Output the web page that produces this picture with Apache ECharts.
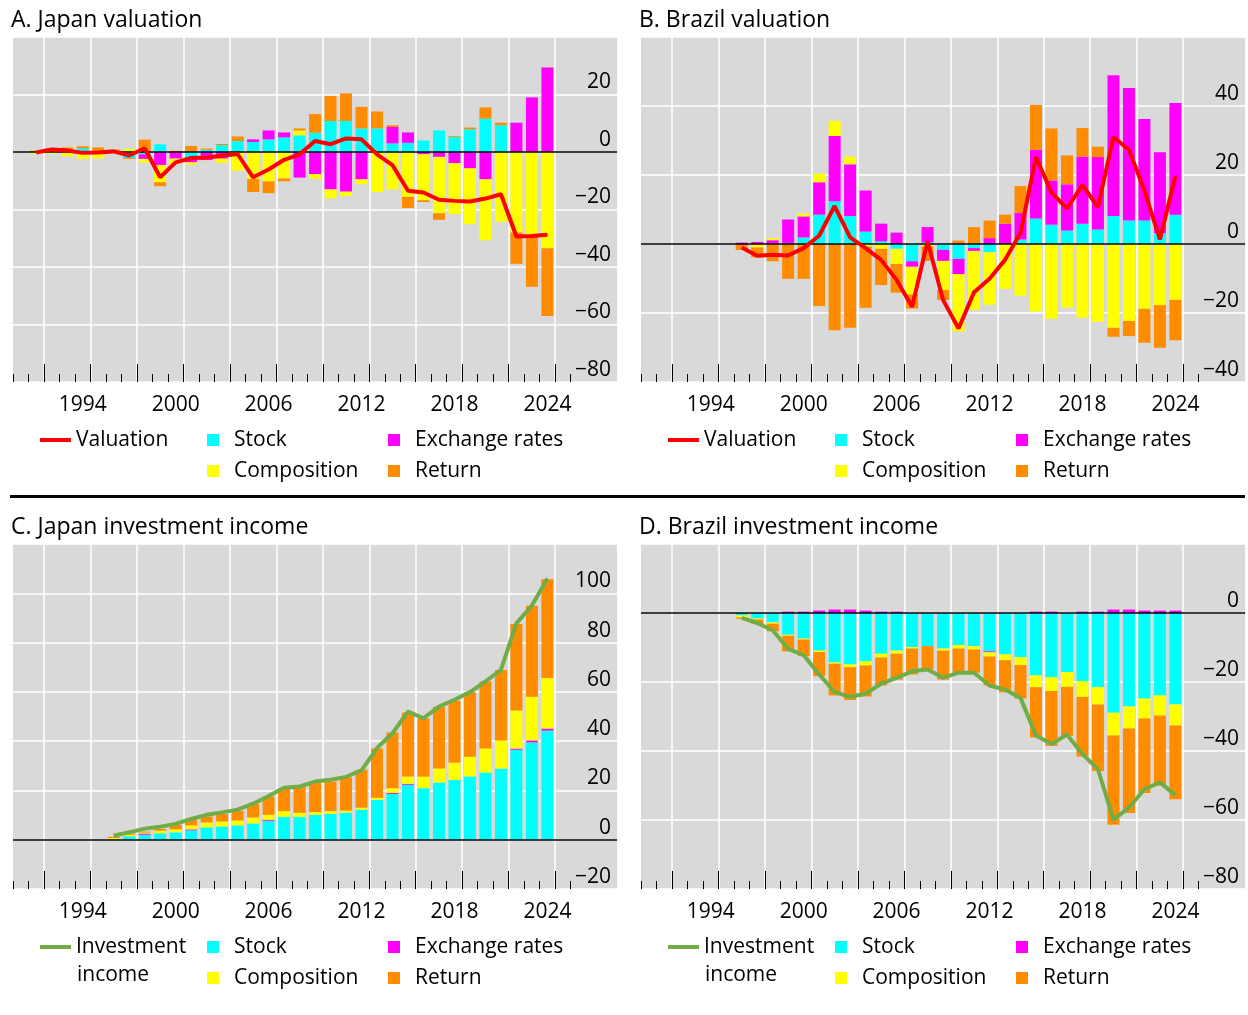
<!DOCTYPE html>
<html>
<head>
<meta charset="utf-8">
<script src="https://cdn.jsdelivr.net/npm/echarts@6/dist/echarts.min.js"></script>
<style>html,body{margin:0;padding:0;background:#fff}#chart{width:1248px;height:1015px}</style>
</head>
<body>
<div id="chart"></div>
<script>
// ---------- data ----------
const categories = ['1990','1991','1992','1993','1994','1995','1996','1997','1998','1999','2000','2001','2002','2003','2004','2005','2006','2007','2008','2009','2010','2011','2012','2013','2014','2015','2016','2017','2018','2019','2020','2021','2022','2023','2024','2025','2026','2027','2028'];
const tickLabels = ['1994','2000','2006','2012','2018','2024'];

// A. Japan valuation
const japanValYears = [1991,1992,1993,1994,1995,1996,1997,1998,1999,2000,2001,2002,2003,2004,2005,2006,2007,2008,2009,2010,2011,2012,2013,2014,2015,2016,2017,2018,2019,2020,2021,2022,2023,2024];
const japanValStock  = [0,0,0.9,1.3,0,0,-2.1,-0.8,2.7,0,-2.0,0.8,2.4,3.8,3.5,4.4,5.1,5.8,6.7,10.8,10.8,8.2,8.2,3.0,3.2,4.0,7.5,5.2,7.9,11.6,9.3,-0.2,0,0];
const japanValExch   = [0,0,0,0,0,0,0,-1.6,-4.5,-2.3,-1.6,-2.8,-2.3,0,0.9,3.1,1.7,-8.9,-7.7,-13.0,-13.8,-9.5,0,5.7,3.6,-0.8,-1.7,-3.9,-5.7,-9.5,0,10.2,19.0,29.4];
const japanValComp   = [-0.7,-0.6,-1.5,-2.4,-2.2,-0.5,1.1,-1.3,-6.0,-1.8,-0.8,0,-1.5,-6.5,-9.4,-10.2,-9.2,1.7,-1.6,-3.1,-1.5,-1.7,-13.9,-13.0,-15.6,-16.0,-19.6,-17.7,-19.4,-21.2,-24.3,-27.8,-29.4,-33.5];
const japanValReturn = [0.4,1.3,0.7,0.7,1.6,0.9,-0.3,4.3,-1.4,0.4,2.1,0.4,0.4,1.6,-4.5,-4.1,-1.0,0.7,6.5,8.7,9.6,7.5,5.9,0.6,-3.9,-0.6,-2.3,0.3,0.6,3.9,0.9,-10.9,-17.5,-23.5];
const japanValTotal  = [-0.2,0.9,0.5,-0.3,-0.2,0.2,-1.2,1.3,-8.8,-3.6,-2.1,-1.9,-1.3,-0.7,-8.8,-6.1,-2.7,-0.8,3.8,2.7,4.7,4.4,-0.8,-4.6,-13.5,-14.1,-16.6,-17.0,-17.2,-16.2,-14.7,-29.4,-29.2,-28.8];

// B. Brazil valuation
const brazilValYears = [1996,1997,1998,1999,2000,2001,2002,2003,2004,2005,2006,2007,2008,2009,2010,2011,2012,2013,2014,2015,2016,2017,2018,2019,2020,2021,2022,2023,2024];
const brazilValStock  = [0,0,0,0.3,1.9,8.5,12.4,8.1,3.6,0.8,-1.4,-5.0,0.5,-1.7,-4.3,-1.2,-2.4,0,1.3,7.4,5.6,3.9,5.9,4.2,8.1,6.8,6.8,3.2,8.5];
const brazilValExch   = [0.4,0.6,1.1,6.8,6.1,9.4,18.9,15.0,11.9,5.1,3.3,-1.6,4.4,-3.2,-4.4,-0.8,1.7,5.9,7.7,19.9,12.8,13.4,19.4,21.0,40.8,38.4,29.4,23.4,32.4];
const brazilValComp   = [0,-1.0,0.6,0,0.8,2.5,4.4,2.2,-0.7,-1.4,-4.4,-8.0,-0.7,-8.4,-16.6,-17.0,-15.2,-13.0,-15.0,-19.6,-21.7,-18.4,-21.4,-22.5,-24.3,-22.3,-18.8,-17.7,-16.2];
const brazilValReturn = [-1.7,-2.9,-5.0,-10.1,-10.1,-18.0,-25.0,-24.3,-17.8,-10.5,-8.3,-4.1,-4.2,-2.9,1.0,4.9,5.1,2.6,7.8,13.0,15.1,8.4,8.3,3.0,-2.6,-4.4,-9.8,-12.4,-11.7];
const brazilValTotal  = [-1.0,-3.4,-3.1,-3.3,-1.2,2.4,11.0,1.9,-1.2,-4.6,-10.4,-18.2,0.8,-16.2,-24.5,-14.0,-10.1,-4.6,3.2,25.2,14.9,10.3,17.1,10.7,31.0,27.3,15.5,1.3,19.7];

// C. Japan investment income
const japanIncYears = [1996,1997,1998,1999,2000,2001,2002,2003,2004,2005,2006,2007,2008,2009,2010,2011,2012,2013,2014,2015,2016,2017,2018,2019,2020,2021,2022,2023,2024];
const japanIncStock  = [0.2,1.4,2.0,2.6,3.0,3.8,5.0,5.4,5.8,6.6,7.7,9.3,9.3,10.1,10.5,11.0,12.2,16.2,18.6,22.3,20.9,23.2,24.3,25.7,27.3,28.9,36.5,39.5,44.3];
const japanIncExch   = [0,0,0.5,0,0,0.4,0,0,0,0,0.4,0,0,0,0,0,0,0,0.4,0.4,0,0,0,0,0,0,0.5,0.8,0.8];
const japanIncComp   = [0.5,0.7,0.4,1.1,1.2,1.6,2.0,2.0,2.0,2.4,2.0,2.3,1.6,1.1,1.1,0.8,0.8,0.8,1.9,3.0,4.7,5.7,7.0,8.0,9.7,11.4,15.4,17.7,20.5];
const japanIncReturn = [0.5,0.3,0.4,0.7,1.8,2.3,2.4,3.0,3.9,5.5,7.4,9.3,10.7,11.8,12.0,13.4,15.4,20.0,22.6,25.9,23.6,25.1,25.1,26.1,27.2,28.6,35.1,36.9,40.1];
const japanIncTotal  = [1.6,3.0,4.5,5.3,6.4,8.4,10.1,11.1,12.2,14.6,17.7,21.1,21.6,23.6,24.3,25.5,28.1,37.2,43.2,52.0,49.3,54.0,56.8,59.9,64.2,68.9,87.8,95.0,106.0];

// D. Brazil investment income
const brazilIncYears = [1996,1997,1998,1999,2000,2001,2002,2003,2004,2005,2006,2007,2008,2009,2010,2011,2012,2013,2014,2015,2016,2017,2018,2019,2020,2021,2022,2023,2024];
const brazilIncStock  = [-0.7,-1.6,-2.7,-6.3,-7.4,-10.9,-14.3,-14.9,-14.0,-11.8,-10.9,-9.9,-9.6,-10.3,-9.3,-9.6,-11.1,-12.0,-12.8,-18.1,-18.6,-17.1,-19.7,-21.5,-28.9,-27.1,-24.8,-23.9,-26.5];
const brazilIncExch   = [0,0,0,0.4,0.4,0.7,1.0,1.0,0.7,0.4,0.4,0,0,0,0,0,-0.3,0,0,0.4,0.4,0,0.4,0.4,1.0,1.0,0.7,0.7,0.7];
const brazilIncComp   = [-0.6,-0.3,-0.4,-0.3,-0.3,-0.4,-0.4,-0.8,-1.2,-1.1,-0.9,-0.4,0,-0.6,-1.0,-1.0,-1.2,-1.7,-2.3,-3.4,-4.0,-4.3,-4.6,-5.0,-6.6,-6.4,-5.8,-5.8,-6.1];
const brazilIncReturn = [-0.4,-1.2,-2.2,-4.5,-4.8,-7.0,-9.2,-9.5,-9.0,-8.1,-7.5,-7.5,-6.7,-8.4,-7.0,-6.7,-8.4,-9.3,-9.7,-14.6,-15.9,-14.2,-17.3,-19.3,-25.9,-24.5,-21.6,-20.4,-21.4];
const brazilIncTotal  = [-1.4,-2.9,-5.0,-10.4,-12.2,-17.8,-22.9,-24.3,-23.4,-20.5,-18.8,-16.9,-16.4,-18.8,-17.3,-17.3,-21.0,-22.2,-24.6,-35.5,-38.0,-35.2,-40.9,-45.3,-59.9,-56.4,-51.1,-49.1,-52.8];

// ---------- styling / layout ----------
const FONT = "'Open Sans', 'Noto Sans', sans-serif";
const COLORS = {stock:'#00ffff', exch:'#ff00ff', comp:'#ffff00', ret:'#ff8c00', val:'#ff0000', inc:'#70ad47'};
const BAND = 15.49;
const GREY = '#d9d9d9';

const panels = [
  {title:'A. Japan valuation', left:13, top:37, min:-80, max:40, years:japanValYears,
   stock:japanValStock, exch:japanValExch, comp:japanValComp, ret:japanValReturn, total:japanValTotal,
   lineName:'Valuation', lineColor:COLORS.val},
  {title:'B. Brazil valuation', left:641, top:37, min:-40, max:60, years:brazilValYears,
   stock:brazilValStock, exch:brazilValExch, comp:brazilValComp, ret:brazilValReturn, total:brazilValTotal,
   lineName:'Valuation', lineColor:COLORS.val},
  {title:'C. Japan investment income', left:13, top:544, min:-20, max:120, years:japanIncYears,
   stock:japanIncStock, exch:japanIncExch, comp:japanIncComp, ret:japanIncReturn, total:japanIncTotal,
   lineName:'Investment income', lineColor:COLORS.inc},
  {title:'D. Brazil investment income', left:641, top:544, min:-80, max:20, years:brazilIncYears,
   stock:brazilIncStock, exch:brazilIncExch, comp:brazilIncComp, ret:brazilIncReturn, total:brazilIncTotal,
   lineName:'Investment income', lineColor:COLORS.inc}
];
const PH = 345;

function onCategories(years, values) {
  const out = categories.map(() => null);
  years.forEach((y, k) => { out[categories.indexOf(String(y))] = values[k]; });
  return out;
}
function yFormatter(max) {
  return function (v) {
    if (v === max) return '';
    return v < 0 ? '\u2212' + Math.abs(v) : String(v);
  };
}

const option = {
  animation: false,
  title: [], grid: [], xAxis: [], yAxis: [], series: [], legend: [], graphic: []
};

option.graphic.push({type:'rect', shape:{x:10, y:495, width:1235, height:3}, style:{fill:'#000'}, z:5});

panels.forEach((p, i) => {
  const g = i * 3;
  const width = 39 * BAND;
  option.graphic.push({type:'rect', shape:{x:p.left, y:p.top, width:width, height:PH}, style:{fill:GREY}, z:-10, silent:true});

  option.title.push({text:p.title, left:p.left - 2, top:p.top - 30, padding:0,
    textStyle:{fontSize:23, fontWeight:'normal', color:'#000', fontFamily:FONT, lineHeight:26}});

  option.grid.push({left:p.left, top:p.top, width:width, height:PH, show:false});
  option.grid.push({left:p.left, top:p.top, width:36 * BAND, height:PH, show:false});
  option.grid.push({left:p.left, top:p.top, width:35 * BAND, height:PH, show:false});

  // main axes
  option.xAxis.push({gridIndex:g, type:'category', data:categories, boundaryGap:true,
    axisLine:{show:false, onZero:false}, axisTick:{show:false}, splitLine:{show:false},
    axisLabel:{interval:(idx, v) => tickLabels.includes(v), color:'#000', fontSize:21, fontFamily:FONT, margin:13}});
  option.yAxis.push({gridIndex:g, type:'value', position:'right', min:p.min, max:p.max, interval:20,
    axisLine:{show:false}, axisTick:{show:false},
    splitLine:{show:true, lineStyle:{color:'#ffffff', width:1.5}},
    axisLabel:{inside:true, margin:6, color:'#000', fontSize:21, fontFamily:FONT,
      verticalAlign:'bottom', lineHeight:24, formatter:yFormatter(p.max)}});

  // short yearly ticks
  option.xAxis.push({gridIndex:g + 1, type:'category', data:categories.slice(0, 36), boundaryGap:true,
    axisLine:{show:false, onZero:false}, axisLabel:{show:false}, splitLine:{show:false},
    axisTick:{show:true, inside:true, length:8, interval:0, lineStyle:{color:'#000', width:1}}});
  option.yAxis.push({gridIndex:g + 1, type:'value', show:false, min:0, max:1});

  // tall ticks every 3 years + vertical grid lines
  option.xAxis.push({gridIndex:g + 2, type:'category', data:categories.slice(0, 35), boundaryGap:true,
    axisLine:{show:false, onZero:false}, axisLabel:{show:false},
    axisTick:{show:true, inside:true, length:18, interval:(idx, v) => (Number(v) - 1992) % 3 === 0,
      lineStyle:{color:'#000', width:1}},
    splitLine:{show:true, interval:(idx, v) => (Number(v) - 1992) % 3 === 0,
      lineStyle:{color:'#ffffff', width:1.5}}});
  option.yAxis.push({gridIndex:g + 2, type:'value', show:false, min:0, max:1});

  const bar = (name, color, arr, extra) => Object.assign({
    type:'bar', name:name, xAxisIndex:g, yAxisIndex:g, stack:'s' + i, barWidth:12,
    itemStyle:{color:color}, data:onCategories(p.years, arr), z:2
  }, extra || {});

  option.series.push(bar('Stock', COLORS.stock, p.stock));
  option.series.push(bar('Exchange rates', COLORS.exch, p.exch));
  option.series.push(bar('Composition', COLORS.comp, p.comp));
  option.series.push(bar('Return', COLORS.ret, p.ret, {
    markLine:{silent:true, symbol:['none', 'none'], label:{show:false},
      lineStyle:{color:'#000', width:1.5, type:'solid'}, emphasis:{disabled:true},
      data:[{yAxis:0}]}
  }));
  option.series.push({type:'line', name:p.lineName, xAxisIndex:g, yAxisIndex:g,
    data:onCategories(p.years, p.total), symbol:'none', z:10,
    lineStyle:{width:4, color:p.lineColor}, itemStyle:{color:p.lineColor}});

  const legTop = p.top + 391;
  const txt = {fontSize:21, color:'#000', fontFamily:FONT, lineHeight:24};
  option.legend.push({left:p.left + 27, top:legTop, padding:0, selectedMode:false,
    itemWidth:31, itemHeight:4,
    data:[{name:p.lineName, icon:'rect'}],
    formatter:(n) => n === 'Investment income' ? 'Investment' : n,
    textStyle:txt});
  option.legend.push({left:p.left + 194, top:legTop, padding:0, selectedMode:false, orient:'vertical',
    itemWidth:12, itemHeight:12, itemGap:7,
    data:[{name:'Stock', icon:'rect'}, {name:'Composition', icon:'rect'}],
    textStyle:Object.assign({padding:[0, 0, 0, 10]}, txt)});
  option.legend.push({left:p.left + 375, top:legTop, padding:0, selectedMode:false, orient:'vertical',
    itemWidth:12, itemHeight:12, itemGap:7,
    data:[{name:'Exchange rates', icon:'rect'}, {name:'Return', icon:'rect'}],
    textStyle:Object.assign({padding:[0, 0, 0, 10]}, txt)});
  if (p.lineName === 'Investment income') {
    option.graphic.push({type:'text', left:p.left + 64, top:legTop + 28,
      style:{text:'income', fontSize:21, fontFamily:FONT, fill:'#000', lineHeight:24}});
  }
});

const chart = echarts.init(document.getElementById('chart'), null, {renderer:'canvas'});
chart.setOption(option);
</script>
</body>
</html>
